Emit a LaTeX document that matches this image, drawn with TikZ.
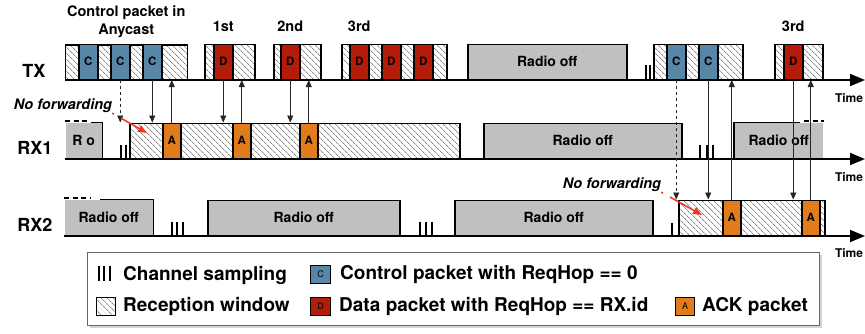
\documentclass[tikz,border=0pt]{standalone}
\usepackage{fontspec}
\setmainfont{TeX Gyre Heros}
\usetikzlibrary{arrows.meta, positioning, patterns.meta, shadows}
\definecolor{ctrlblue}{RGB}{88,134,166}
\definecolor{datared}{RGB}{178,28,8}
\definecolor{ackorange}{RGB}{224,124,28}
\definecolor{offgray}{RGB}{192,192,192}
\definecolor{fwdred}{RGB}{240,52,30}

\begin{document}
\begin{tikzpicture}[
        x=1pt, y=-1pt,
        winbox/.style={rectangle, draw=black, line width=1.5pt, pattern={Lines[angle=-45, distance=4pt, line width=0.5pt]}, pattern color=black!70, anchor=south west, inner sep=0pt, minimum height=35pt},
        pkt/.style={rectangle, draw=black, line width=1.5pt, anchor=south west, inner sep=0pt, minimum width=19pt, minimum height=35pt, font=\bfseries\fontsize{11.5}{11.5}\selectfont},
        ctrlpkt/.style={pkt, fill=ctrlblue},
        datapkt/.style={pkt, fill=datared},
        ackpkt/.style={pkt, fill=ackorange, minimum width=18pt},
        offbox/.style={rectangle, draw=black, line width=1.5pt, fill=offgray, anchor=south west, inner sep=0pt, minimum height=35pt, font=\bfseries\fontsize{14}{14}\selectfont},
        edge/.style={line width=1.5pt},
        cutedge/.style={line width=1.8pt, dash pattern=on 5pt off 3.5pt},
        axisline/.style={line width=1.8pt, -{Triangle[length=15pt, width=12pt]}},
        tick/.style={line width=1.3pt},
        msgarrow/.style={line width=0.8pt, draw=black!85, -{Triangle[length=7pt, width=6pt]}},
        nofwdarrow/.style={line width=1.5pt, draw=fwdred, dash pattern=on 2pt off 8pt on 40pt, -{Triangle[length=9pt, width=7pt, fill=fwdred]}},
        rowlabel/.style={inner sep=0pt, font=\bfseries\fontsize{18}{18}\selectfont},
        grplabel/.style={inner sep=0pt, align=center, font=\bfseries\fontsize{14.5}{18}\selectfont},
        nofwd/.style={inner sep=0pt, font=\bfseries\itshape\fontsize{14.5}{14.5}\selectfont},
        timelabel/.style={inner sep=0pt, font=\bfseries\fontsize{12}{12}\selectfont},
        keytext/.style={inner sep=0pt, font=\bfseries\fontsize{19}{19}\selectfont},
        keybox/.style={line width=1pt, minimum width=19pt, minimum height=18pt, font=\fontsize{9}{9}\selectfont}
    ]
    \useasboundingbox (0,0) rectangle (865,333);

    % The rows
    \node[rowlabel] (txlbl) at (34,71) {TX};
    \node[rowlabel] (rx1lbl) at (35,148) {RX1};
    \node[rowlabel] (rx2lbl) at (35,225) {RX2};

    % TX: anycast control packets and data packets
    \node[winbox, minimum width=122pt] (txwin1) at (65,80) {};
    \foreach \x [count=\i] in {78,110,142}
        \node[ctrlpkt] (txc\i) at (\x,80) {C};
    \node[winbox, minimum width=50pt] (txwin2) at (204,80) {};
    \node[datapkt] (txd1) at (213,80) {D};
    \node[winbox, minimum width=47pt] (txwin3) at (273,80) {};
    \node[datapkt] (txd2) at (280,80) {D};
    \node[winbox, minimum width=105pt] (txwin4) at (341,80) {};
    \foreach \x [count=\i from 3] in {349,381,413}
        \node[datapkt] (txd\i) at (\x,80) {D};
    \node[offbox, minimum width=159pt] (txoff) at (467,80) {Radio off};
    \node[winbox, minimum width=89pt] (txwin5) at (653,80) {};
    \foreach \x [count=\i from 4] in {666,698}
        \node[ctrlpkt] (txc\i) at (\x,80) {C};
    \node[winbox, minimum width=48pt] (txwin6) at (774,80) {};
    \node[datapkt] (txd6) at (783,80) {D};

    \node[grplabel, above=7pt of txwin1] (anycastlbl) {Control packet in\\Anycast};
    \node[grplabel, above=12pt of txd1] (firstlbl) {1st};
    \node[grplabel, above=12pt of txd2] (secondlbl) {2nd};
    \node[grplabel, above=12pt of txd3] (thirdlbl) {3rd};
    \node[grplabel, above=12pt of txd6] (thirdlbl2) {3rd};

    % RX1
    \node[offbox, draw=none, minimum width=36pt] (rx1off1) at (65,159) {R o};
    \draw[edge] ([xshift=26pt]rx1off1.north west) -- (rx1off1.north east) -- (rx1off1.south east);
    \draw[cutedge] ([yshift=1.5pt]rx1off1.north west) -- ([xshift=24pt, yshift=1.5pt]rx1off1.north west);
    \node[winbox, minimum width=330pt] (rx1win) at (129,159) {};
    \foreach \x [count=\i] in {162,232,299}
        \node[ackpkt] (rx1a\i) at (\x,159) {A};
    \node[offbox, minimum width=198pt] (rx1off2) at (483,159) {Radio off};
    \node[offbox, draw=none, minimum width=88pt] (rx1off3) at (734,159) {Radio off};
    \draw[edge] (rx1off3.south west) -- (rx1off3.north west) -- ([xshift=66pt]rx1off3.north west);
    \draw[cutedge] ([xshift=70pt, yshift=1.5pt]rx1off3.north west) -- ([yshift=1.5pt]rx1off3.north east);

    % RX2
    \node[offbox, draw=none, minimum width=88pt] (rx2off1) at (64,236) {Radio off};
    \draw[edge] ([xshift=36pt]rx2off1.north west) -- (rx2off1.north east) -- (rx2off1.south east);
    \draw[cutedge] ([yshift=1.5pt]rx2off1.north west) -- ([xshift=26pt, yshift=1.5pt]rx2off1.north west);
    \node[offbox, minimum width=192pt] (rx2off2) at (207,236) {Radio off};
    \node[offbox, minimum width=198pt] (rx2off3) at (454,236) {Radio off};
    \node[winbox, minimum width=146pt] (rx2win) at (678,236) {};
    \foreach \x [count=\i] in {722,801}
        \node[ackpkt] (rx2a\i) at (\x,236) {A};

    % Channel sampling
    \foreach \x in {646,650} \draw[tick] (\x,65) -- (\x,80);
    \foreach \x in {121,126} \draw[tick] (\x,145) -- (\x,159);
    \foreach \x in {700,707,713} \draw[tick] (\x,145) -- (\x,159);
    \foreach \x in {172,177,183,420,426,432} \draw[tick] (\x,222) -- (\x,236);
    \draw[tick] (672,223) -- (672,236);

    % The time axes
    \coordinate (txstart) at (65,80);
    \coordinate (txend) at (865,80);
    \coordinate (rx1start) at (65,159);
    \coordinate (rx1end) at (865,159);
    \coordinate (rx2start) at (64,236);
    \coordinate (rx2end) at (865,236);
    \draw[axisline] (txstart) -- (txend);
    \draw[axisline] (rx1start) -- (rx1end);
    \draw[axisline] (rx2start) -- (rx2end);
    \node[timelabel] (txtime) at (849,98) {Time};
    \node[timelabel] (rx1time) at (849,177) {Time};
    \node[timelabel] (rx2time) at (849,253) {Time};

    % The arrows between TX and the receivers
    \draw[msgarrow, dashed] (txc2.south) -- (txc2.south |- rx1win.north);
    \draw[msgarrow] (txc3.south) -- (txc3.south |- rx1win.north);
    \draw[msgarrow] (rx1a1.north) -- (rx1a1.north |- txwin1.south);
    \draw[msgarrow] (txd1.south) -- (txd1.south |- rx1win.north);
    \draw[msgarrow] (rx1a2.north) -- (rx1a2.north |- txwin2.south);
    \draw[msgarrow] (txd2.south) -- (txd2.south |- rx1win.north);
    \draw[msgarrow] (rx1a3.north) -- (rx1a3.north |- txwin3.south);
    \draw[msgarrow, dashed] (txc4.south) -- (txc4.south |- rx2win.north);
    \draw[msgarrow] (txc5.south) -- (txc5.south |- rx2win.north);
    \draw[msgarrow] (rx2a1.north) -- (rx2a1.north |- txwin5.south);
    \draw[msgarrow] (txd6.south) -- (txd6.south |- rx2win.north);
    \draw[msgarrow] (rx2a2.north) -- (rx2a2.north |- txwin6.south);

    % No forwarding
    \node[nofwd] (nf1) at (63,106) {No forwarding};
    \coordinate (nf1end) at (147,133);
    \draw[nofwdarrow] (nf1.south east) -- (nf1end);
    \node[nofwd] (nf2) at (612,185) {No forwarding};
    \coordinate (nf2end) at (702,215);
    \draw[nofwdarrow] (nf2.south east) -- (nf2end);

    % The legend
    \node[rectangle, draw=black!60, line width=1pt, fill=white, drop shadow={shadow xshift=2pt, shadow yshift=-2pt, opacity=0.35}, anchor=north west, inner sep=0pt, minimum width=732pt, minimum height=73pt] (legend) at (87,252) {};
    \foreach \x in {99,104,110} \draw[tick] (\x,266) -- (\x,281);
    \node[keytext, anchor=west] (keysample) at (123,275) {Channel sampling};
    \node[winbox, keybox] (keywin) at (96,316) {};
    \node[keytext, right=7pt of keywin] (keywintext) {Reception window};
    \node[ctrlpkt, keybox, minimum width=20pt] (keyctrl) at (310,284) {C};
    \node[keytext, right=9pt of keyctrl] (keyctrltext) {Control packet with ReqHop == 0};
    \node[datapkt, keybox, minimum width=20pt] (keydata) at (310,316) {D};
    \node[keytext, right=8pt of keydata] (keydatatext) {Data packet with ReqHop == RX.id};
    \node[ackpkt, keybox] (keyack) at (675,316) {A};
    \node[keytext, right=7pt of keyack] (keyacktext) {ACK packet};

\end{tikzpicture}
\end{document}
